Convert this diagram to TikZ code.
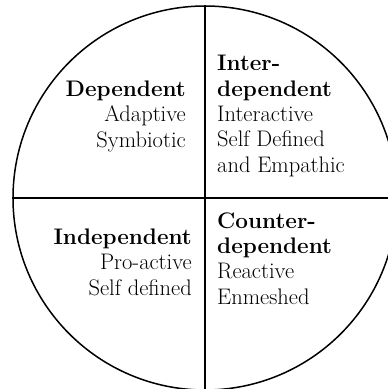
\documentclass[tikz,border=0pt]{standalone}
\usepackage{tikz}

\begin{document}
\begin{tikzpicture}[
  x=1pt,y=-1pt,
  rim/.style={draw=black,line width=1.5pt},
  quad text/.style={inner sep=0pt,font=\fontsize{22.5}{25.3}\selectfont},
  left quad/.style={quad text,align=right,anchor=base east},
  right quad/.style={quad text,align=left,anchor=base west}
]
\useasboundingbox (0,0) rectangle (388,389);

% circle split in four
\node[rim,circle,minimum size=384pt,inner sep=0pt] (wheel) at (205,198) {};
\draw[rim] (wheel.north) -- (wheel.south);
\draw[rim] (wheel.west) -- (wheel.east);

% quadrant labels (placed on the baseline of their last line)
\node[left quad] (dep) at (186,147) {\textbf{Dependent}\\Adaptive\\Symbiotic};
\node[right quad] (interdep) at (217,172) {\textbf{Inter-}\\\textbf{dependent}\\Interactive\\Self Defined\\and Empathic};
\node[left quad] (indep) at (192,295) {\textbf{Independent}\\Pro-active\\Self defined};
\node[right quad] (counterdep) at (217,304) {\textbf{Counter-}\\\textbf{dependent}\\Reactive\\Enmeshed};

\end{tikzpicture}
\end{document}
